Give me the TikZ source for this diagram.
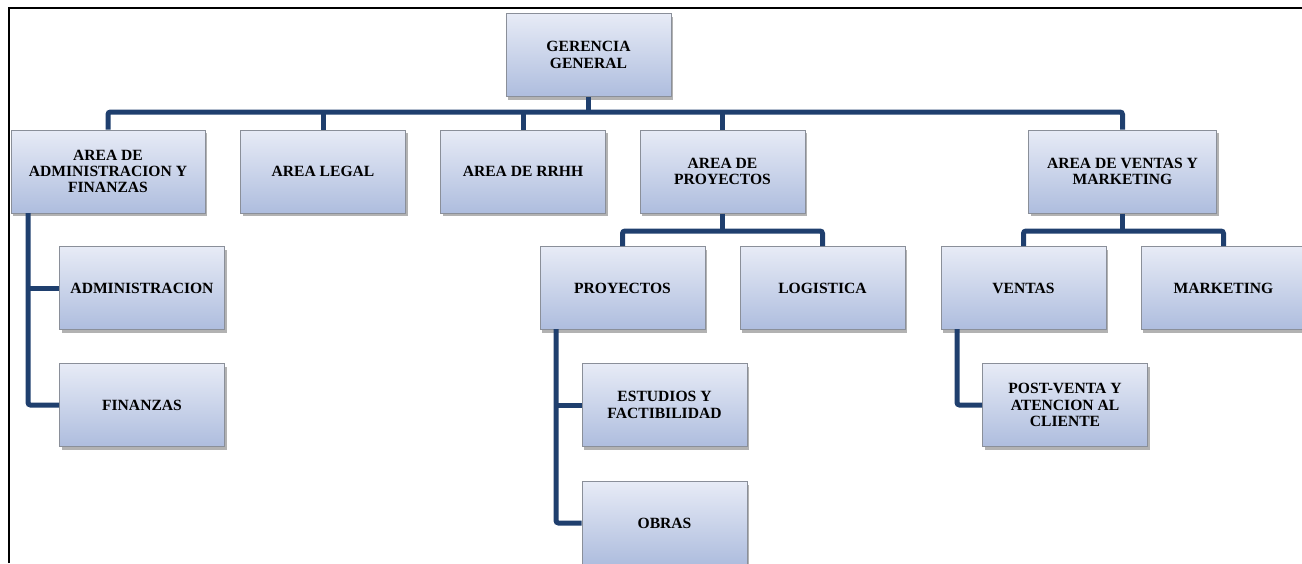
\documentclass[tikz,border=0pt]{standalone}
\usepackage{fontspec}
\setmainfont{Liberation Serif}
\usetikzlibrary{shadows}
\definecolor{linkblue}{HTML}{1F3F6E}
\definecolor{boxtop}{HTML}{E7EBF6}
\definecolor{boxbot}{HTML}{AEBDDE}
\definecolor{boxedge}{HTML}{8A8F99}
\begin{document}
\begin{tikzpicture}[x=1pt,y=-1pt,
  unit/.style={rectangle, draw=boxedge, line width=1pt,
    top color=boxtop, bottom color=boxbot,
    minimum width=165pt, minimum height=83pt, inner sep=2pt,
    align=center, font=\fontsize{15.6}{16.2}\selectfont\bfseries,
    drop shadow={shadow xshift=2pt, shadow yshift=-3pt, opacity=0.3, fill=black}},
  link/.style={draw=linkblue, line width=5pt, rounded corners=2.5pt}]
\useasboundingbox (0,0) rectangle (1302,563);

% outer frame (top and left edges)
\draw[line width=1.5pt] (9,563) -- (9,8) -- (1302,8);

% top level
\node[unit] (gg) at (588.5,55) {GERENCIA\\GENERAL};

% second level
\node[unit, minimum width=194pt] (adm) at (108,171.5) {AREA DE\\ADMINISTRACION Y\\FINANZAS};
\node[unit] (leg) at (323,171.5) {AREA LEGAL};
\node[unit] (rrh) at (523,171.5) {AREA DE RRHH};
\node[unit] (pro) at (722.5,171.5) {AREA DE\\PROYECTOS};
\node[unit, minimum width=188pt] (avm) at (1122.5,171.5) {AREA DE VENTAS Y\\MARKETING};

% third level
\node[unit] (adn) at (142,288) {ADMINISTRACION};
\node[unit] (fin) at (142,405) {FINANZAS};
\node[unit] (pry) at (622.5,288) {PROYECTOS};
\node[unit] (log) at (822.5,288) {LOGISTICA};
\node[unit] (est) at (664.5,405) {ESTUDIOS Y\\FACTIBILIDAD};
\node[unit] (obr) at (664.5,523) {OBRAS};
\node[unit] (ven) at (1023.5,288) {VENTAS};
\node[unit] (mkt) at (1223.5,288) {MARKETING};
\node[unit] (pos) at (1065,405) {POST-VENTA Y\\ATENCION AL\\CLIENTE};

% bus levels and spines
\coordinate (bus) at (0,112);
\coordinate (busp) at (0,231);
\coordinate (admspine) at (28,213);
\coordinate (pryspine) at (556,329);
\coordinate (venspine) at (957,329);

% connectors from general management
\draw[link] (gg.south) -- (gg.south |- bus);
\draw[link] (adm.north) -- (adm.north |- bus) -- (avm.north |- bus) -- (avm.north);
\draw[link] (leg.north) -- (leg.north |- bus);
\draw[link] (rrh.north) -- (rrh.north |- bus);
\draw[link] (pro.north) -- (pro.north |- bus);

% administration and finance
\draw[link] (admspine) |- (fin.west);
\draw[link] (admspine |- adn.west) -- (adn.west);

% projects
\draw[link] (pro.south) -- (pro.south |- busp);
\draw[link] (pry.north) -- (pry.north |- busp) -- (log.north |- busp) -- (log.north);
\draw[link] (pryspine) |- (obr.west);
\draw[link] (pryspine |- est.west) -- (est.west);

% sales and marketing
\draw[link] (avm.south) -- (avm.south |- busp);
\draw[link] (ven.north) -- (ven.north |- busp) -- (mkt.north |- busp) -- (mkt.north);
\draw[link] (venspine) |- (pos.west);
\end{tikzpicture}
\end{document}
